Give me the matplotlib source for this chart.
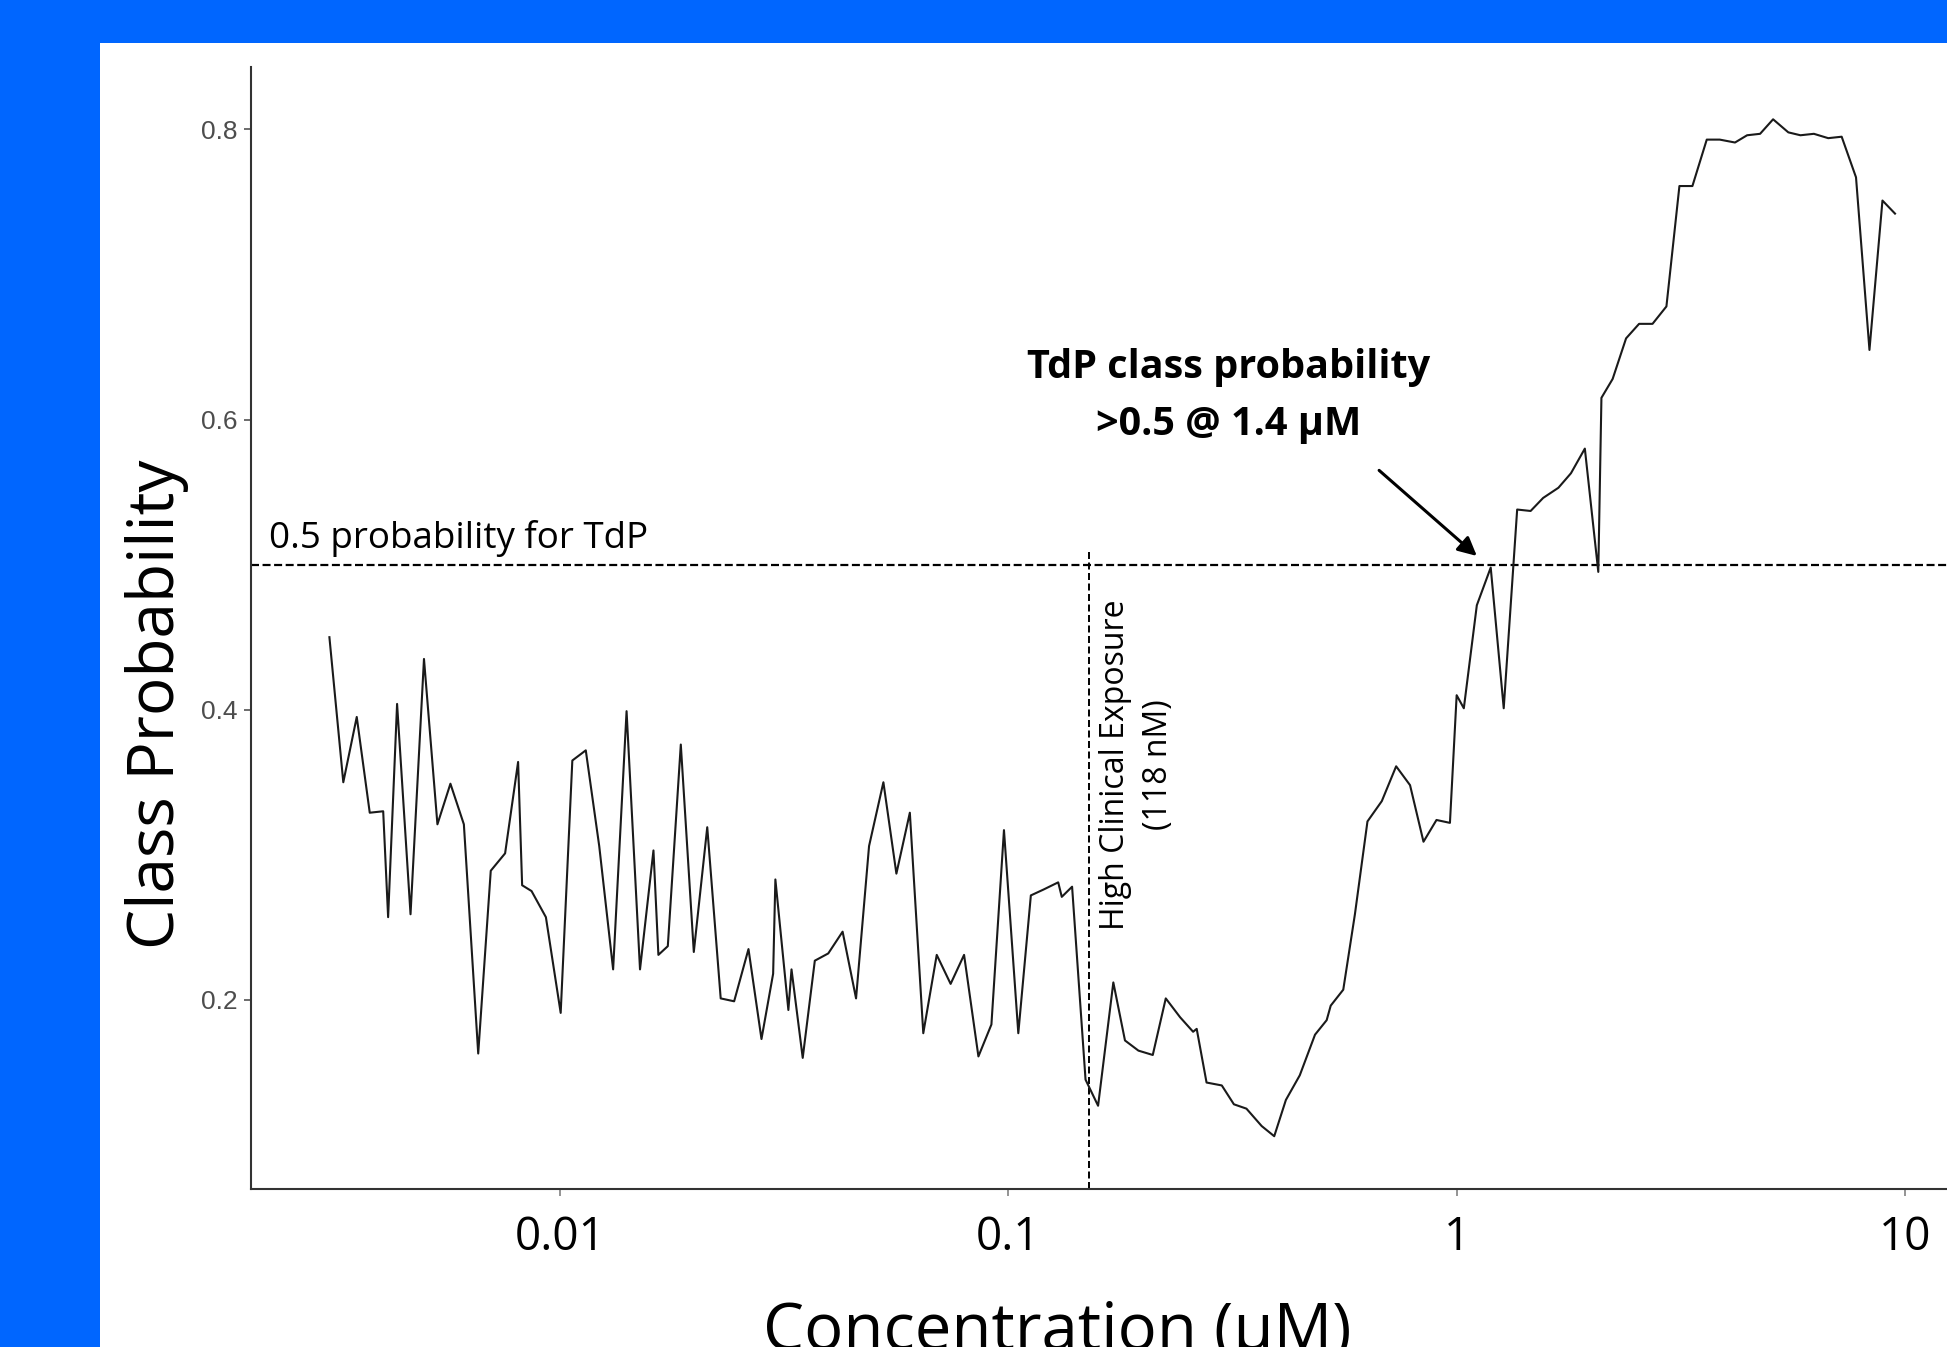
import numpy as np
import matplotlib
matplotlib.use("Agg")
import matplotlib.pyplot as plt
from matplotlib.patches import Rectangle
from matplotlib.ticker import NullLocator

# log10 of concentration (uM)
log_conc = [
    -2.515, -2.484, -2.454, -2.425, -2.395, -2.384, -2.364, -2.334, -2.304, -2.274,
    -2.245, -2.215, -2.183, -2.155, -2.123, -2.094, -2.085, -2.064, -2.032, -1.999,
    -1.973, -1.943, -1.913, -1.882, -1.852, -1.822, -1.792, -1.781, -1.760, -1.731,
    -1.702, -1.672, -1.642, -1.612, -1.580, -1.551, -1.525, -1.520, -1.491, -1.484,
    -1.459, -1.432, -1.402, -1.370, -1.340, -1.311, -1.279, -1.250, -1.220, -1.190,
    -1.160, -1.129, -1.099, -1.067, -1.038, -1.010, -0.978, -0.950, -0.922, -0.889,
    -0.881, -0.858, -0.828, -0.800, -0.766, -0.740, -0.710, -0.678, -0.649, -0.617,
    -0.588, -0.580, -0.558, -0.524, -0.497, -0.469, -0.435, -0.407, -0.381, -0.350,
    -0.316, -0.290, -0.281, -0.253, -0.227, -0.199, -0.167, -0.135, -0.104, -0.074,
    -0.045, -0.015, 0.000, 0.016, 0.045, 0.076, 0.105, 0.135, 0.165, 0.193,
    0.227, 0.255, 0.286, 0.316, 0.323, 0.348, 0.378, 0.407, 0.437, 0.468,
    0.497, 0.526, 0.558, 0.587, 0.621, 0.648, 0.677, 0.706, 0.740, 0.767,
    0.797, 0.829, 0.859, 0.891, 0.921, 0.950, 0.978,
]

class_prob = [
    0.450, 0.350, 0.395, 0.329, 0.330, 0.257, 0.404, 0.259, 0.435, 0.321,
    0.349, 0.321, 0.163, 0.289, 0.301, 0.364, 0.279, 0.275, 0.257, 0.191,
    0.365, 0.372, 0.306, 0.221, 0.399, 0.221, 0.303, 0.231, 0.237, 0.376,
    0.233, 0.319, 0.201, 0.199, 0.235, 0.173, 0.218, 0.283, 0.193, 0.221,
    0.160, 0.227, 0.232, 0.247, 0.201, 0.306, 0.350, 0.287, 0.329, 0.177,
    0.231, 0.211, 0.231, 0.161, 0.183, 0.317, 0.177, 0.272, 0.276, 0.281,
    0.271, 0.278, 0.145, 0.127, 0.212, 0.172, 0.165, 0.162, 0.201, 0.188,
    0.178, 0.180, 0.143, 0.141, 0.128, 0.125, 0.113, 0.106, 0.131, 0.148,
    0.176, 0.186, 0.196, 0.207, 0.259, 0.323, 0.337, 0.361, 0.348, 0.309,
    0.324, 0.322, 0.410, 0.401, 0.472, 0.498, 0.401, 0.538, 0.537, 0.546,
    0.553, 0.563, 0.580, 0.495, 0.615, 0.628, 0.656, 0.666, 0.666, 0.678,
    0.761, 0.761, 0.793, 0.793, 0.791, 0.796, 0.797, 0.807, 0.798, 0.796,
    0.797, 0.794, 0.795, 0.767, 0.648, 0.751, 0.742,
]

x_ticks = [0.01, 0.1, 1, 10]
x_tick_labels = ["0.01", "0.1", "1", "10"]
y_ticks = [0.2, 0.4, 0.6, 0.8]
y_tick_labels = ["0.2", "0.4", "0.6", "0.8"]

threshold = 0.5
exposure_conc = 0.1515   # where the dashed exposure line is drawn


def main():
    plt.rcParams['font.family'] = ['Open Sans', 'DejaVu Sans']

    fig = plt.figure(figsize=(19.47, 13.47), dpi=100, facecolor='#0066FF')
    # white slide panel on the blue background
    fig.add_artist(Rectangle((100 / 1947, 0), 1 - 100 / 1947, (1347 - 43) / 1347,
                             transform=fig.transFigure, facecolor='white',
                             edgecolor='none', zorder=0))

    ax = fig.add_axes([0.1289, 0.1175, 0.8711, 0.8327])
    ax.patch.set_visible(False)

    conc = 10 ** np.array(log_conc)
    ax.plot(conc, class_prob, color='#1a1a1a', lw=1.5, zorder=3)

    ax.set_xscale('log')
    ax.set_xlim(10 ** -2.690, 10 ** 1.094)
    ax.set_ylim(0.0698, 0.843)

    ax.axhline(threshold, color='black', lw=1.6, dashes=(3.6, 1.6), zorder=2)
    ax.vlines(exposure_conc, 0.0698, 0.5096, color='black', lw=1.4,
              linestyles=(0, (3.6, 1.8)), zorder=2)

    ax.set_xticks(x_ticks)
    ax.set_xticklabels(x_tick_labels, fontsize=33)
    ax.xaxis.set_minor_locator(NullLocator())
    ax.set_yticks(y_ticks)
    ax.set_yticklabels(y_tick_labels, fontsize=19, family='Liberation Sans')

    ax.tick_params(axis='y', length=5, width=1.1, color='#444444', pad=4.5,
                   labelcolor='#4d4d4d')
    ax.tick_params(axis='x', length=5, width=1.1, color='#777777', pad=14,
                   labelcolor='black')

    for side in ['top', 'right']:
        ax.spines[side].set_visible(False)
    for side in ['left', 'bottom']:
        ax.spines[side].set_color('#333333')
        ax.spines[side].set_linewidth(1.5)

    ax.text(10 ** -2.650, 0.5115, "0.5 probability for TdP", fontsize=26.5,
            ha='left', va='baseline')

    # va='baseline' sits on the last line here
    ax.text(10 ** -0.508, 0.5894, "TdP class probability\n>0.5 @ 1.4 µM",
            fontsize=28.5, fontweight='bold', ha='center', va='baseline',
            multialignment='center', linespacing=1.6)

    ax.annotate("", xy=(10 ** 0.045, 0.506), xytext=(10 ** -0.173, 0.565),
                arrowprops=dict(arrowstyle='-|>', color='black', lw=2.2,
                                mutation_scale=28, shrinkA=0, shrinkB=0))

    ax.text(10 ** -0.713, 0.362, "High Clinical Exposure\n(118 nM)", fontsize=23,
            rotation=90, ha='center', va='center', multialignment='center',
            linespacing=1.4)

    fig.text(0.0806, 0.477, "Class Probability", fontsize=46, rotation=90,
             ha='center', va='center')
    fig.text(0.5432, -0.002, "Concentration (µM)", fontsize=47,
             ha='center', va='baseline')

    fig.savefig('out.png', dpi=100, facecolor=fig.get_facecolor())


if __name__ == "__main__":
    main()
